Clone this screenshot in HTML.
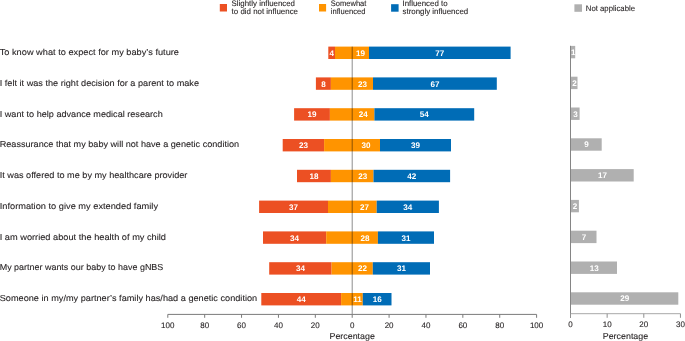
<!DOCTYPE html>
<html><head><meta charset="utf-8"><style>
html,body{margin:0;padding:0;background:#fff;width:685px;height:341px;overflow:hidden}
svg{display:block;will-change:transform}
text{font-family:"Liberation Sans",sans-serif;text-rendering:geometricPrecision}
</style></head><body>
<svg width="685" height="341" viewBox="0 0 685 341">
<text x="-0.30" y="55.20" font-size="8.65" text-anchor="start" font-weight="normal" fill="#231F20" textLength="179.30" lengthAdjust="spacingAndGlyphs" stroke="#231F20" stroke-width="0.1">To know what to expect for my baby’s future</text>
<rect x="328.30" y="46.60" width="6.70" height="12.40" fill="#EC5023"/>
<rect x="335.00" y="46.60" width="34.00" height="12.40" fill="#FF9400"/>
<rect x="369.00" y="46.60" width="141.60" height="12.40" fill="#006CB6"/>
<text x="331.65" y="55.70" font-size="8.1" text-anchor="middle" font-weight="bold" fill="#fff">4</text>
<text x="360.60" y="55.70" font-size="8.1" text-anchor="middle" font-weight="bold" fill="#fff">19</text>
<text x="439.80" y="55.70" font-size="8.1" text-anchor="middle" font-weight="bold" fill="#fff">77</text>
<rect x="570.50" y="45.90" width="4.70" height="12.40" fill="#B0B0B0"/>
<text x="573.25" y="55.00" font-size="8.1" text-anchor="middle" font-weight="bold" fill="#fff">1</text>
<text x="-0.30" y="85.93" font-size="8.65" text-anchor="start" font-weight="normal" fill="#231F20" textLength="199.30" lengthAdjust="spacingAndGlyphs" stroke="#231F20" stroke-width="0.1">I felt it was the right decision for a parent to make</text>
<rect x="315.90" y="77.40" width="15.00" height="12.40" fill="#EC5023"/>
<rect x="330.90" y="77.40" width="42.10" height="12.40" fill="#FF9400"/>
<rect x="373.00" y="77.40" width="123.80" height="12.40" fill="#006CB6"/>
<text x="323.40" y="86.50" font-size="8.1" text-anchor="middle" font-weight="bold" fill="#fff">8</text>
<text x="362.60" y="86.50" font-size="8.1" text-anchor="middle" font-weight="bold" fill="#fff">23</text>
<text x="434.90" y="86.50" font-size="8.1" text-anchor="middle" font-weight="bold" fill="#fff">67</text>
<rect x="570.50" y="76.70" width="7.00" height="12.40" fill="#B0B0B0"/>
<text x="574.40" y="85.80" font-size="8.1" text-anchor="middle" font-weight="bold" fill="#fff">2</text>
<text x="-0.30" y="116.66" font-size="8.65" text-anchor="start" font-weight="normal" fill="#231F20" textLength="163.00" lengthAdjust="spacingAndGlyphs" stroke="#231F20" stroke-width="0.1">I want to help advance medical research</text>
<rect x="294.10" y="108.20" width="35.80" height="12.40" fill="#EC5023"/>
<rect x="329.90" y="108.20" width="44.50" height="12.40" fill="#FF9400"/>
<rect x="374.40" y="108.20" width="99.80" height="12.40" fill="#006CB6"/>
<text x="312.00" y="117.30" font-size="8.1" text-anchor="middle" font-weight="bold" fill="#fff">19</text>
<text x="363.30" y="117.30" font-size="8.1" text-anchor="middle" font-weight="bold" fill="#fff">24</text>
<text x="424.30" y="117.30" font-size="8.1" text-anchor="middle" font-weight="bold" fill="#fff">54</text>
<rect x="570.50" y="107.50" width="9.10" height="12.40" fill="#B0B0B0"/>
<text x="575.45" y="116.60" font-size="8.1" text-anchor="middle" font-weight="bold" fill="#fff">3</text>
<text x="-0.30" y="147.39" font-size="8.65" text-anchor="start" font-weight="normal" fill="#231F20" textLength="239.40" lengthAdjust="spacingAndGlyphs" stroke="#231F20" stroke-width="0.1">Reassurance that my baby will not have a genetic condition</text>
<rect x="282.70" y="139.00" width="41.40" height="12.40" fill="#EC5023"/>
<rect x="324.10" y="139.00" width="55.90" height="12.40" fill="#FF9400"/>
<rect x="380.00" y="139.00" width="71.00" height="12.40" fill="#006CB6"/>
<text x="303.40" y="148.10" font-size="8.1" text-anchor="middle" font-weight="bold" fill="#fff">23</text>
<text x="366.10" y="148.10" font-size="8.1" text-anchor="middle" font-weight="bold" fill="#fff">30</text>
<text x="415.50" y="148.10" font-size="8.1" text-anchor="middle" font-weight="bold" fill="#fff">39</text>
<rect x="570.50" y="138.30" width="31.20" height="12.40" fill="#B0B0B0"/>
<text x="586.50" y="147.40" font-size="8.1" text-anchor="middle" font-weight="bold" fill="#fff">9</text>
<text x="-0.30" y="178.12" font-size="8.65" text-anchor="start" font-weight="normal" fill="#231F20" textLength="187.70" lengthAdjust="spacingAndGlyphs" stroke="#231F20" stroke-width="0.1">It was offered to me by my healthcare provider</text>
<rect x="297.00" y="169.80" width="33.90" height="12.40" fill="#EC5023"/>
<rect x="330.90" y="169.80" width="42.60" height="12.40" fill="#FF9400"/>
<rect x="373.50" y="169.80" width="76.60" height="12.40" fill="#006CB6"/>
<text x="313.95" y="178.90" font-size="8.1" text-anchor="middle" font-weight="bold" fill="#fff">18</text>
<text x="362.85" y="178.90" font-size="8.1" text-anchor="middle" font-weight="bold" fill="#fff">23</text>
<text x="411.80" y="178.90" font-size="8.1" text-anchor="middle" font-weight="bold" fill="#fff">42</text>
<rect x="570.50" y="169.10" width="63.20" height="12.40" fill="#B0B0B0"/>
<text x="602.50" y="178.20" font-size="8.1" text-anchor="middle" font-weight="bold" fill="#fff">17</text>
<text x="-0.30" y="208.85" font-size="8.65" text-anchor="start" font-weight="normal" fill="#231F20" textLength="158.30" lengthAdjust="spacingAndGlyphs" stroke="#231F20" stroke-width="0.1">Information to give my extended family</text>
<rect x="259.10" y="200.60" width="68.90" height="12.40" fill="#EC5023"/>
<rect x="328.00" y="200.60" width="48.70" height="12.40" fill="#FF9400"/>
<rect x="376.70" y="200.60" width="62.20" height="12.40" fill="#006CB6"/>
<text x="293.55" y="209.70" font-size="8.1" text-anchor="middle" font-weight="bold" fill="#fff">37</text>
<text x="364.45" y="209.70" font-size="8.1" text-anchor="middle" font-weight="bold" fill="#fff">27</text>
<text x="407.80" y="209.70" font-size="8.1" text-anchor="middle" font-weight="bold" fill="#fff">34</text>
<rect x="570.50" y="199.90" width="8.40" height="12.40" fill="#B0B0B0"/>
<text x="575.10" y="209.00" font-size="8.1" text-anchor="middle" font-weight="bold" fill="#fff">2</text>
<text x="-0.30" y="239.58" font-size="8.65" text-anchor="start" font-weight="normal" fill="#231F20" textLength="166.30" lengthAdjust="spacingAndGlyphs" stroke="#231F20" stroke-width="0.1">I am worried about the health of my child</text>
<rect x="263.00" y="231.40" width="63.20" height="12.40" fill="#EC5023"/>
<rect x="326.20" y="231.40" width="51.70" height="12.40" fill="#FF9400"/>
<rect x="377.90" y="231.40" width="56.10" height="12.40" fill="#006CB6"/>
<text x="294.60" y="240.50" font-size="8.1" text-anchor="middle" font-weight="bold" fill="#fff">34</text>
<text x="365.05" y="240.50" font-size="8.1" text-anchor="middle" font-weight="bold" fill="#fff">28</text>
<text x="405.95" y="240.50" font-size="8.1" text-anchor="middle" font-weight="bold" fill="#fff">31</text>
<rect x="570.50" y="230.70" width="26.00" height="12.40" fill="#B0B0B0"/>
<text x="583.90" y="239.80" font-size="8.1" text-anchor="middle" font-weight="bold" fill="#fff">7</text>
<text x="-0.30" y="270.31" font-size="8.65" text-anchor="start" font-weight="normal" fill="#231F20" textLength="163.60" lengthAdjust="spacingAndGlyphs" stroke="#231F20" stroke-width="0.1">My partner wants our baby to have gNBS</text>
<rect x="269.20" y="262.20" width="62.40" height="12.40" fill="#EC5023"/>
<rect x="331.60" y="262.20" width="41.20" height="12.40" fill="#FF9400"/>
<rect x="372.80" y="262.20" width="57.20" height="12.40" fill="#006CB6"/>
<text x="300.40" y="271.30" font-size="8.1" text-anchor="middle" font-weight="bold" fill="#fff">34</text>
<text x="362.50" y="271.30" font-size="8.1" text-anchor="middle" font-weight="bold" fill="#fff">22</text>
<text x="401.40" y="271.30" font-size="8.1" text-anchor="middle" font-weight="bold" fill="#fff">31</text>
<rect x="570.50" y="261.50" width="46.50" height="12.40" fill="#B0B0B0"/>
<text x="594.15" y="270.60" font-size="8.1" text-anchor="middle" font-weight="bold" fill="#fff">13</text>
<text x="-0.30" y="301.04" font-size="8.65" text-anchor="start" font-weight="normal" fill="#231F20" textLength="257.50" lengthAdjust="spacingAndGlyphs" stroke="#231F20" stroke-width="0.1">Someone in my/my partner’s family has/had a genetic condition</text>
<rect x="261.30" y="293.00" width="79.80" height="12.40" fill="#EC5023"/>
<rect x="341.10" y="293.00" width="21.70" height="12.40" fill="#FF9400"/>
<rect x="362.80" y="293.00" width="28.70" height="12.40" fill="#006CB6"/>
<text x="301.20" y="302.10" font-size="8.1" text-anchor="middle" font-weight="bold" fill="#fff">44</text>
<text x="357.50" y="302.10" font-size="8.1" text-anchor="middle" font-weight="bold" fill="#fff">11</text>
<text x="377.15" y="302.10" font-size="8.1" text-anchor="middle" font-weight="bold" fill="#fff">16</text>
<rect x="570.50" y="292.30" width="107.80" height="12.40" fill="#B0B0B0"/>
<text x="624.80" y="301.40" font-size="8.1" text-anchor="middle" font-weight="bold" fill="#fff">29</text>
<line x1="352.2" y1="46.6" x2="352.2" y2="314.0" stroke="#000" stroke-opacity="0.45" stroke-width="1"/>
<line x1="167.80" y1="314.4" x2="536.60" y2="314.4" stroke="#7a7a7a" stroke-width="1"/>
<line x1="167.80" y1="314.4" x2="167.80" y2="317.8" stroke="#7a7a7a" stroke-width="1"/>
<text x="167.80" y="327.80" font-size="8.0" text-anchor="middle" font-weight="normal" fill="#231F20" stroke="#231F20" stroke-width="0.1">100</text>
<line x1="204.68" y1="314.4" x2="204.68" y2="317.8" stroke="#7a7a7a" stroke-width="1"/>
<text x="204.68" y="327.80" font-size="8.0" text-anchor="middle" font-weight="normal" fill="#231F20" stroke="#231F20" stroke-width="0.1">80</text>
<line x1="241.56" y1="314.4" x2="241.56" y2="317.8" stroke="#7a7a7a" stroke-width="1"/>
<text x="241.56" y="327.80" font-size="8.0" text-anchor="middle" font-weight="normal" fill="#231F20" stroke="#231F20" stroke-width="0.1">60</text>
<line x1="278.44" y1="314.4" x2="278.44" y2="317.8" stroke="#7a7a7a" stroke-width="1"/>
<text x="278.44" y="327.80" font-size="8.0" text-anchor="middle" font-weight="normal" fill="#231F20" stroke="#231F20" stroke-width="0.1">40</text>
<line x1="315.32" y1="314.4" x2="315.32" y2="317.8" stroke="#7a7a7a" stroke-width="1"/>
<text x="315.32" y="327.80" font-size="8.0" text-anchor="middle" font-weight="normal" fill="#231F20" stroke="#231F20" stroke-width="0.1">20</text>
<line x1="352.20" y1="314.4" x2="352.20" y2="317.8" stroke="#7a7a7a" stroke-width="1"/>
<text x="352.20" y="327.80" font-size="8.0" text-anchor="middle" font-weight="normal" fill="#231F20" stroke="#231F20" stroke-width="0.1">0</text>
<line x1="389.08" y1="314.4" x2="389.08" y2="317.8" stroke="#7a7a7a" stroke-width="1"/>
<text x="389.08" y="327.80" font-size="8.0" text-anchor="middle" font-weight="normal" fill="#231F20" stroke="#231F20" stroke-width="0.1">20</text>
<line x1="425.96" y1="314.4" x2="425.96" y2="317.8" stroke="#7a7a7a" stroke-width="1"/>
<text x="425.96" y="327.80" font-size="8.0" text-anchor="middle" font-weight="normal" fill="#231F20" stroke="#231F20" stroke-width="0.1">40</text>
<line x1="462.84" y1="314.4" x2="462.84" y2="317.8" stroke="#7a7a7a" stroke-width="1"/>
<text x="462.84" y="327.80" font-size="8.0" text-anchor="middle" font-weight="normal" fill="#231F20" stroke="#231F20" stroke-width="0.1">60</text>
<line x1="499.72" y1="314.4" x2="499.72" y2="317.8" stroke="#7a7a7a" stroke-width="1"/>
<text x="499.72" y="327.80" font-size="8.0" text-anchor="middle" font-weight="normal" fill="#231F20" stroke="#231F20" stroke-width="0.1">80</text>
<line x1="536.60" y1="314.4" x2="536.60" y2="317.8" stroke="#7a7a7a" stroke-width="1"/>
<text x="536.60" y="327.80" font-size="8.0" text-anchor="middle" font-weight="normal" fill="#231F20" stroke="#231F20" stroke-width="0.1">100</text>
<text x="352.20" y="338.70" font-size="8.5" text-anchor="middle" font-weight="normal" fill="#231F20" textLength="45.40" lengthAdjust="spacingAndGlyphs" stroke="#231F20" stroke-width="0.1">Percentage</text>
<line x1="570.5" y1="45.800000000000004" x2="570.5" y2="317.8" stroke="#858585" stroke-width="1"/>
<line x1="570.5" y1="313.7" x2="680.45" y2="313.7" stroke="#a8a8a8" stroke-width="1"/>
<line x1="570.50" y1="313.7" x2="570.50" y2="317.8" stroke="#8f8f8f" stroke-width="1"/>
<text x="570.50" y="327.00" font-size="8.0" text-anchor="middle" font-weight="normal" fill="#231F20" stroke="#231F20" stroke-width="0.1">0</text>
<line x1="607.15" y1="313.7" x2="607.15" y2="317.8" stroke="#8f8f8f" stroke-width="1"/>
<text x="607.15" y="327.00" font-size="8.0" text-anchor="middle" font-weight="normal" fill="#231F20" stroke="#231F20" stroke-width="0.1">10</text>
<line x1="643.80" y1="313.7" x2="643.80" y2="317.8" stroke="#8f8f8f" stroke-width="1"/>
<text x="643.80" y="327.00" font-size="8.0" text-anchor="middle" font-weight="normal" fill="#231F20" stroke="#231F20" stroke-width="0.1">20</text>
<line x1="680.45" y1="313.7" x2="680.45" y2="317.8" stroke="#8f8f8f" stroke-width="1"/>
<text x="680.45" y="327.00" font-size="8.0" text-anchor="middle" font-weight="normal" fill="#231F20" stroke="#231F20" stroke-width="0.1">30</text>
<text x="625.48" y="338.70" font-size="8.5" text-anchor="middle" font-weight="normal" fill="#231F20" textLength="45.40" lengthAdjust="spacingAndGlyphs" stroke="#231F20" stroke-width="0.1">Percentage</text>
<rect x="219.80" y="4.00" width="7.20" height="7.50" fill="#EC5023"/>
<text x="231.60" y="5.50" font-size="8.0" text-anchor="start" font-weight="normal" fill="#231F20" textLength="63.40" lengthAdjust="spacingAndGlyphs" stroke="#231F20" stroke-width="0.1">Slightly influenced</text>
<text x="231.60" y="13.90" font-size="8.0" text-anchor="start" font-weight="normal" fill="#231F20" textLength="66.40" lengthAdjust="spacingAndGlyphs" stroke="#231F20" stroke-width="0.1">to did not influence</text>
<rect x="319.00" y="4.00" width="7.10" height="7.50" fill="#FF9400"/>
<text x="330.80" y="5.80" font-size="8.0" text-anchor="start" font-weight="normal" fill="#231F20" textLength="35.60" lengthAdjust="spacingAndGlyphs" stroke="#231F20" stroke-width="0.1">Somewhat</text>
<text x="330.80" y="14.10" font-size="8.0" text-anchor="start" font-weight="normal" fill="#231F20" textLength="34.60" lengthAdjust="spacingAndGlyphs" stroke="#231F20" stroke-width="0.1">influenced</text>
<rect x="391.10" y="4.20" width="7.50" height="7.50" fill="#006CB6"/>
<text x="402.50" y="5.80" font-size="8.0" text-anchor="start" font-weight="normal" fill="#231F20" textLength="45.00" lengthAdjust="spacingAndGlyphs" stroke="#231F20" stroke-width="0.1">Influenced to</text>
<text x="402.50" y="14.10" font-size="8.0" text-anchor="start" font-weight="normal" fill="#231F20" textLength="65.70" lengthAdjust="spacingAndGlyphs" stroke="#231F20" stroke-width="0.1">strongly influenced</text>
<rect x="574.40" y="4.30" width="7.60" height="7.50" fill="#B0B0B0"/>
<text x="585.80" y="10.75" font-size="8.0" text-anchor="start" font-weight="normal" fill="#231F20" textLength="49.20" lengthAdjust="spacingAndGlyphs" stroke="#231F20" stroke-width="0.1">Not applicable</text>
</svg>
</body></html>
